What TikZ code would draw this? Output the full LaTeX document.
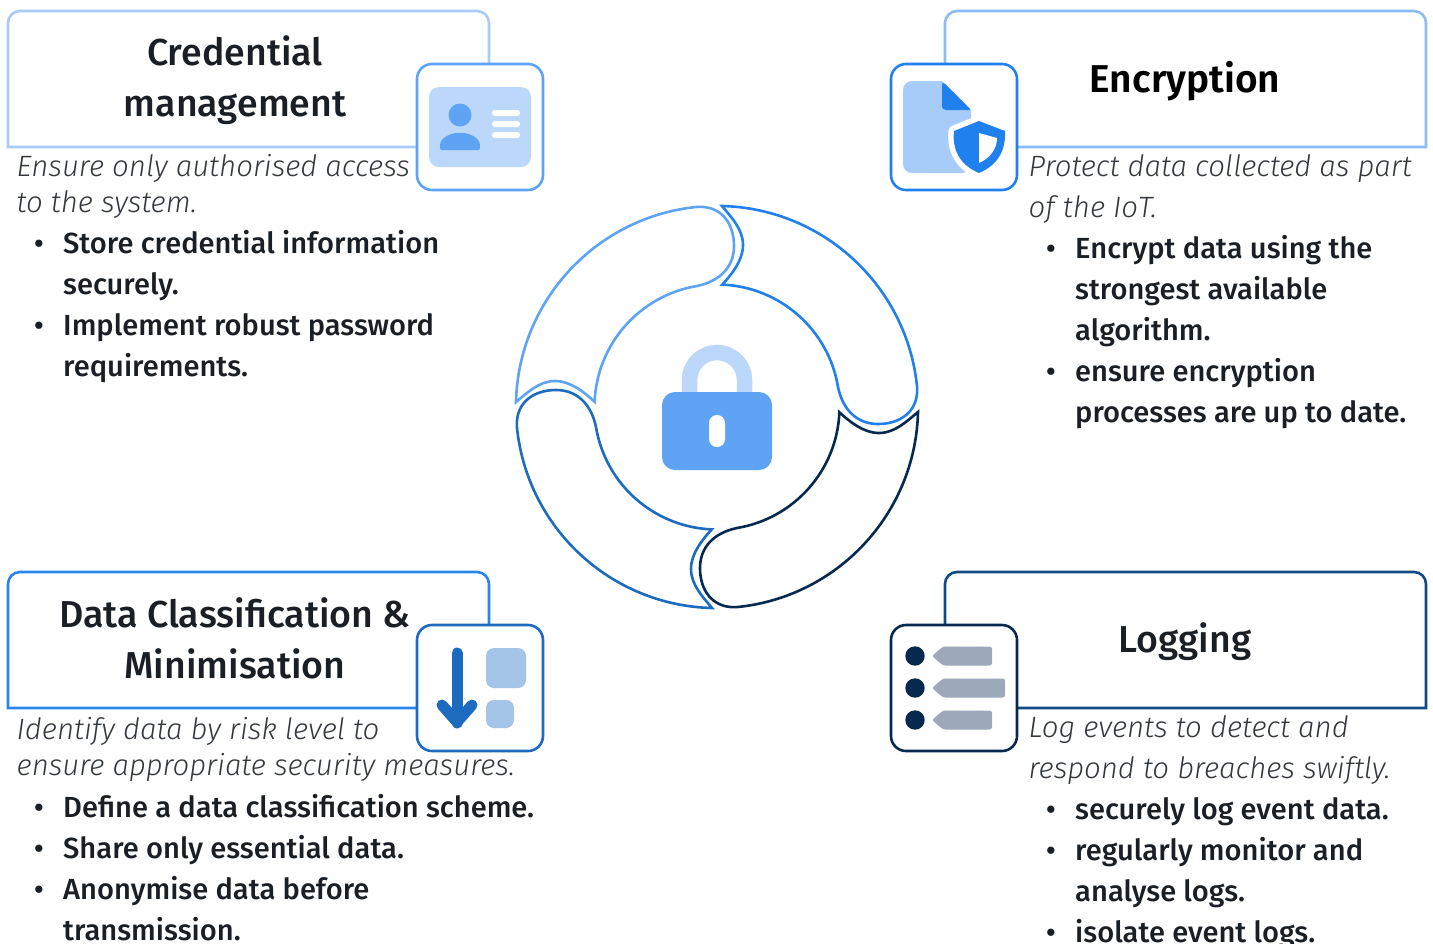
\documentclass[tikz,border=0pt]{standalone}
\usepackage{fontspec}
\setmainfont{Fira Sans}
\newfontfamily\medfont{Fira Sans Medium}
\newfontfamily\semifont{Fira Sans SemiBold}
\newfontfamily\lightit{Fira Sans Light Italic}
\definecolor{cA}{HTML}{5FA3F5}
\definecolor{cB}{HTML}{1F80EE}
\definecolor{cC}{HTML}{1C6BBF}
\definecolor{cD}{HTML}{06294F}
\definecolor{lA}{HTML}{A8CBF8}
\definecolor{lB}{HTML}{8DBBF7}
\definecolor{lC}{HTML}{2A85EA}
\definecolor{lD}{HTML}{0F4A85}
\definecolor{pale}{HTML}{BBD8FA}
\definecolor{paleB}{HTML}{A8CCFA}
\definecolor{paleC}{HTML}{A4C4E8}
\definecolor{greyt}{HTML}{9BA9BA}
\definecolor{inkt}{HTML}{1A1F25}
\definecolor{itl}{HTML}{33383E}
\tikzset{
  iconbox/.style={draw=#1,line width=2.6pt,rounded corners=15pt,fill=white,minimum width=126pt,minimum height=126pt,inner sep=0pt},
  tab/.style={draw=#1,line width=2.6pt},
  ttl/.style={font=\fontsize{37.5}{51.5}\selectfont\medfont,text=inkt,align=center,inner sep=0pt},
  ttlb/.style={font=\fontsize{38.8}{52}\selectfont\semifont,text=black,align=center,inner sep=0pt},
  itx/.style={font=\fontsize{29.4}{#1}\selectfont\lightit,text=itl,align=left,inner sep=0pt,anchor=north west},
  bod/.style={font=\fontsize{29.1}{41}\selectfont\medfont,text=inkt,align=left,inner sep=0pt,anchor=north west,yshift=28.7pt},
  bul/.style={font=\fontsize{28.6}{41}\selectfont\medfont,text=inkt,inner sep=0pt,anchor=base},
  ringline/.style={draw=#1,line width=2.6pt,line join=miter,fill=white},
}
\newcommand{\ringseg}[2]{%
  \begin{scope}[shift={(717,407)},y=1pt,rotate=#1]
    \draw[ringline=#2] (5,201) arc[start angle=88.6,end angle=5.4,radius=201pt]
      .. controls (201,-5) and (183,-17) .. (161,-17)
      .. controls (141,-17) and (126,-4) .. (121,20)
      arc[start angle=9.4,end angle=87.6,radius=122.5pt]
      .. controls (14,132) and (26,146) .. (26,162)
      .. controls (26,178) and (14,190) .. (5,201) -- cycle;
  \end{scope}}
\begin{document}
\begin{tikzpicture}[x=1pt,y=-1pt]
\useasboundingbox (0,0) rectangle (1433,943);
\fill[white] (0,0) rectangle (1433,943);

% tabs: square lower corners, rounded upper corners
\draw[tab=lA] (417,147) -- (8,147) -- (8,23) arc[start angle=180,end angle=90,radius=12pt] -- (477,11) arc[start angle=90,end angle=0,radius=12pt] -- (489,64);
\draw[tab=lB] (945,64) -- (945,23) arc[start angle=180,end angle=90,radius=12pt] -- (1414,11) arc[start angle=90,end angle=0,radius=12pt] -- (1426,147) -- (1017,147);
\draw[tab=lC] (417,708) -- (8,708) -- (8,584) arc[start angle=180,end angle=90,radius=12pt] -- (477,572) arc[start angle=90,end angle=0,radius=12pt] -- (489,625);
\draw[tab=lD] (945,625) -- (945,584) arc[start angle=180,end angle=90,radius=12pt] -- (1414,572) arc[start angle=90,end angle=0,radius=12pt] -- (1426,708) -- (1017,708);

% icon boxes
\node[iconbox=cA] (iconA) at (480,127) {};
\node[iconbox=cB] (iconB) at (954,127) {};
\node[iconbox=cC] (iconC) at (480,688) {};
\node[iconbox=cD] (iconD) at (954,688) {};

% titles
\node[ttl] (tA) at (235,80) {Credential\\management};
\node[ttlb] (tB) at (1185,81) {Encryption};
\node[ttl] (tC) at (235,638.5) {Data Classification \&\\Minimisation};
\node[ttl] (tD) at (1185,642) {Logging};

% icon: id card
\fill[pale,rounded corners=10pt] (429,87) rectangle (531,167);
\fill[cA] (460,115) circle[radius=11.5pt];
\fill[cA,rounded corners=2pt] (440,150) -- (440,146) .. controls (441,138) and (450,133) .. (460,133) .. controls (470,133) and (479,138) .. (480,146) -- (480,150) -- cycle;
\foreach \yy in {113,124,135}{\fill[white,rounded corners=2.8pt] (492,\yy-3) rectangle (520,\yy+3);}

% icon: document + shield
\fill[paleB,rounded corners=9pt] (903,173) -- (903,81) -- (942,81) -- (971,110) -- (971,173) -- cycle;
\fill[paleB] (930,81) -- (942,81) -- (971,110) -- (971,120) -- (930,120) -- cycle;
\fill[cB,rounded corners=1.5pt] (942,81) -- (971,110) -- (948,110) [rounded corners=4pt] -- (942,110) -- (942,104) -- cycle;
\draw[white,line width=11pt,fill=cB,line join=round] (979,121) -- (1005,131) .. controls (1006,150) and (998,165) .. (979,173) .. controls (960,165) and (952,150) .. (954,131) -- cycle;
\fill[cB,line join=round] (979,121) -- (1005,131) .. controls (1006,150) and (998,165) .. (979,173) .. controls (960,165) and (952,150) .. (954,131) -- cycle;
\fill[white] (979,133) -- (997,138) .. controls (997,149) and (990,158) .. (979,163) -- cycle;

% icon: arrow + squares
\draw[cC,line width=11pt,line cap=round,line join=round] (457,653) -- (457,723);
\draw[cC,line width=11pt,line cap=round,line join=round] (442,705) -- (457,722) -- (472,705);
\fill[paleC,rounded corners=8pt] (486,648) rectangle (526,688);
\fill[paleC,rounded corners=8pt] (486,700) rectangle (514,728);

% icon: log list
\foreach \yy/\xx in {656/992,688/1005,720/992}{
  \fill[cD] (915,\yy) circle[radius=9.7pt];
  \fill[greyt,rounded corners=2.5pt] (932,\yy) -- (943,\yy-9.5) -- (\xx,\yy-9.5) -- (\xx,\yy+9.5) -- (943,\yy+9.5) -- cycle;
}

% ring
\ringseg{0}{cB}
\ringseg{90}{cA}
\ringseg{180}{cC}
\ringseg{270}{cD}

% lock
\draw[pale,line width=15.5pt] (689.5,392) -- (689.5,380) arc[start angle=180,end angle=0,radius=27.5pt] -- (744.5,392);
\fill[cA,rounded corners=13pt] (662,392) rectangle (772,470);
\fill[white,rounded corners=7.9pt] (709,415) rectangle (725,447);

% descriptions (anchor: first baseline minus strut height)
\node[itx=36,yshift=29pt] (dA) at (16.5,180) {\strut Ensure only authorised access\\to the system.};
\node[itx=41,yshift=29pt] (dB) at (1028.5,177) {\strut Protect data collected as part\\of the IoT.};
\node[itx=36,yshift=29pt] (dC) at (16.5,743.5) {\strut Identify data by risk level to\\ensure appropriate security measures.};
\node[itx=41,yshift=29pt] (dD) at (1028.5,738) {\strut Log events to detect and\\respond to breaches swiftly.};

% lists
\node[bul] (b1) at (39,253) {•};
\node[bod] (i1) at (63,253) {\strut Store credential information\\securely.};
\node[bul] (b2) at (39,335) {•};
\node[bod] (i2) at (63,335) {\strut Implement robust password\\requirements.};

\node[bul] (b3) at (1051,258) {•};
\node[bod] (i3) at (1075,258) {\strut Encrypt data using the\\strongest available\\algorithm.};
\node[bul] (b4) at (1051,381) {•};
\node[bod] (i4) at (1075,381) {\strut ensure encryption\\processes are up to date.};

\node[bul] (b5) at (39,817) {•};
\node[bod] (i5) at (63,817) {\strut Define a data classification scheme.};
\node[bul] (b6) at (39,858) {•};
\node[bod] (i6) at (63,858) {\strut Share only essential data.};
\node[bul] (b7) at (39,899) {•};
\node[bod] (i7) at (63,899) {\strut Anonymise data before\\transmission.};

\node[bul] (b8) at (1051,819) {•};
\node[bod] (i8) at (1075,819) {\strut securely log event data.};
\node[bul] (b9) at (1051,860) {•};
\node[bod] (i9) at (1075,860) {\strut regularly monitor and\\analyse logs.};
\node[bul] (b10) at (1051,942) {•};
\node[bod] (i10) at (1075,942) {\strut isolate event logs.};
\end{tikzpicture}
\end{document}
